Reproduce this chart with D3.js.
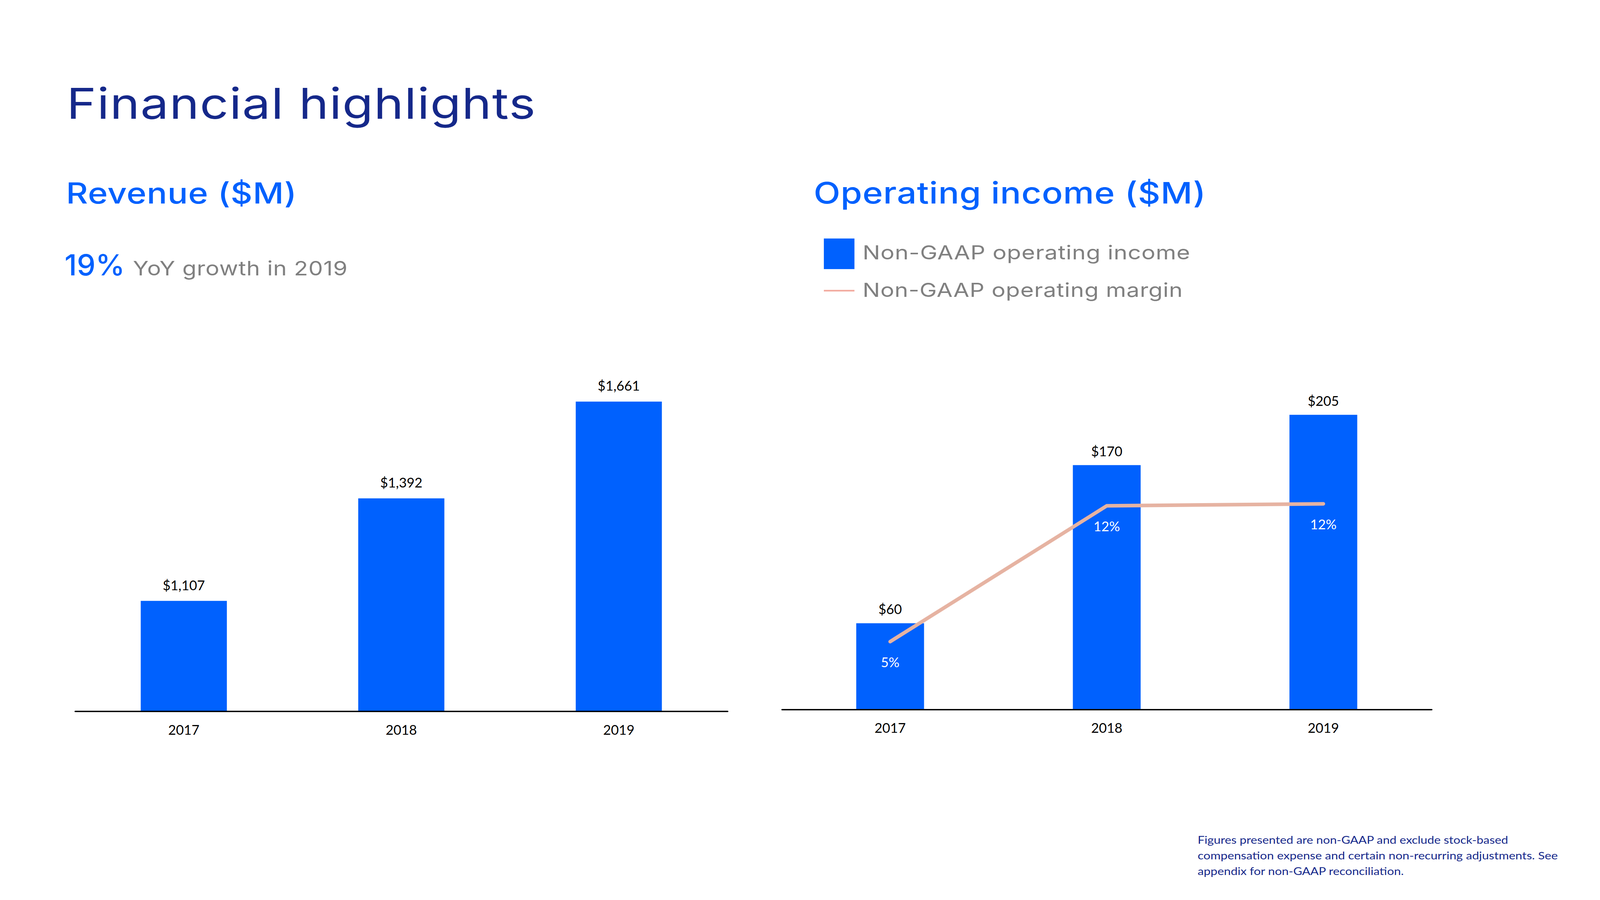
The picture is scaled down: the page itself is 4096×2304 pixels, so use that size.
<!DOCTYPE html>
<html>
<head>
<meta charset="utf-8">
<script src="https://cdn.jsdelivr.net/npm/d3@7"></script>
<style>
  html, body { margin: 0; padding: 0; background: #ffffff; }
  svg { display: block; }
</style>
</head>
<body>
<script>
// ---------------- data ----------------
const years = ["2017", "2018", "2019"];
const revenue = [1107, 1392, 1661];          // $M
const opIncome = [60, 170, 205];             // $M, Non-GAAP operating income
const opMargin = [5.4, 12.2, 12.3];          // %, Non-GAAP operating margin
const revenueDomain = [800, 1800];
const opIncomeDomain = [0, 250];
const opMarginDomain = [2, 20];

const titleText = "Financial highlights";
const revenueTitle = "Revenue ($M)";
const growthValue = "19%";
const growthText = "YoY growth in 2019";
const opTitle = "Operating income ($M)";
const legendLabels = ["Non-GAAP operating income", "Non-GAAP operating margin"];
const footnoteLines = [
  "Figures presented are non-GAAP and exclude stock-based",
  "compensation expense and certain non-recurring adjustments. See",
  "appendix for non-GAAP reconciliation."
];

// ---------------- style ----------------
const NAVY = "#15288a";
const BLUE = "#0061fe";
const GREY = "#808080";
const LINE = "#e6b3a2";
const LEGEND_LINE = "#f2aca1";
const HEAD_FONT = "Inter, 'Noto Sans', sans-serif";
const BODY_FONT = "Lato, 'Open Sans', sans-serif";

const svg = d3.select("body").append("svg")
  .attr("width", 4096).attr("height", 2304)
  .attr("viewBox", "0 0 5333 3000");

svg.append("rect").attr("width", 5333).attr("height", 3000).attr("fill", "#fff");

// text placed at (x, baseline y), stretched horizontally to span the target width
function addText(x, y, txt, size, color, font, weight, target, spacing) {
  const t = svg.append("text")
    .attr("font-family", font).attr("font-size", size)
    .attr("font-weight", weight).attr("fill", color)
    .attr("letter-spacing", spacing || 0)
    .text(txt);
  const w = t.node().getComputedTextLength();
  const k = target ? target / w : 1;
  t.attr("transform", `translate(${x},${y}) scale(${k},1)`);
  return t;
}

// ---------------- headings ----------------
addText(222, 396, titleText, 142, NAVY, HEAD_FONT, 400, 1565, 2);
addText(220, 678, revenueTitle, 96, BLUE, HEAD_FONT, 500, 770, 1);
addText(215, 918, growthValue, 96, BLUE, HEAD_FONT, 500, 201, 0);
addText(443, 918, growthText, 66, GREY, HEAD_FONT, 400, 716, 1);
addText(2712, 679, opTitle, 99, BLUE, HEAD_FONT, 500, 1308, 1);

// legend
svg.append("rect").attr("x", 2746).attr("y", 795).attr("width", 102).attr("height", 102).attr("fill", BLUE);
svg.append("line").attr("x1", 2746).attr("x2", 2848).attr("y1", 969).attr("y2", 969)
  .attr("stroke", LEGEND_LINE).attr("stroke-width", 5.5);
addText(2875, 865, legendLabels[0], 65, GREY, HEAD_FONT, 400, 1093, 1);
addText(2875, 989, legendLabels[1], 65, GREY, HEAD_FONT, 400, 1068, 1);

// footnote
const fnWidths = [1035, 1201, 687];
footnoteLines.forEach((l, i) => addText(3992, 2813 + i * 52, l, 34, NAVY, BODY_FONT, 400, fnWidths[i], 0));

// ---------------- charts ----------------
const LABEL_SIZE = 45;
const money = v => "$" + d3.format(",")(v);

function drawAxis(x, yPos) {
  const g = svg.append("g").attr("transform", `translate(0,${yPos})`)
    .call(d3.axisBottom(x).tickSize(0).tickSizeOuter(0).tickPadding(46));
  g.select(".domain").attr("stroke", "#000").attr("stroke-width", 4.5).attr("stroke-linecap", "round");
  g.selectAll("text").attr("font-family", BODY_FONT).attr("font-size", LABEL_SIZE).attr("fill", "#000");
}

// Revenue chart
const xL = d3.scaleBand().domain(years).range([250, 2425]).paddingInner(0.604).paddingOuter(0.302);
const yL = d3.scaleLinear().domain(revenueDomain).range([2371, 1172]);
const gL = svg.append("g");
gL.selectAll("rect").data(revenue).join("rect")
  .attr("x", (d, i) => xL(years[i])).attr("width", xL.bandwidth())
  .attr("y", d => yL(d)).attr("height", d => yL(revenueDomain[0]) - yL(d))
  .attr("fill", BLUE);
gL.selectAll("text").data(revenue).join("text")
  .attr("x", (d, i) => xL(years[i]) + xL.bandwidth() / 2)
  .attr("y", d => yL(d) - 36)
  .attr("text-anchor", "middle").attr("font-family", BODY_FONT).attr("font-size", LABEL_SIZE)
  .attr("fill", "#000").text(d => money(d));
drawAxis(xL, 2371);

// Operating income chart
const xR = d3.scaleBand().domain(years).range([2606, 4772]).paddingInner(0.687).paddingOuter(0.3435);
const yR = d3.scaleLinear().domain(opIncomeDomain).range([2365, 1167]);
const yM = d3.scaleLinear().domain(opMarginDomain).range([2365, 1167]);
const gR = svg.append("g");
gR.selectAll("rect").data(opIncome).join("rect")
  .attr("x", (d, i) => xR(years[i])).attr("width", xR.bandwidth())
  .attr("y", d => yR(d)).attr("height", d => yR(0) - yR(d))
  .attr("fill", BLUE);
gR.selectAll("text.val").data(opIncome).join("text").attr("class", "val")
  .attr("x", (d, i) => xR(years[i]) + xR.bandwidth() / 2)
  .attr("y", d => yR(d) - 30)
  .attr("text-anchor", "middle").attr("font-family", BODY_FONT).attr("font-size", LABEL_SIZE)
  .attr("fill", "#000").text(d => money(d));

const line = d3.line()
  .x((d, i) => xR(years[i]) + xR.bandwidth() / 2)
  .y(d => yM(d));
gR.append("path").datum(opMargin).attr("d", line)
  .attr("fill", "none").attr("stroke", LINE).attr("stroke-width", 12)
  .attr("stroke-linecap", "round").attr("stroke-linejoin", "round");
gR.selectAll("text.pct").data(opMargin).join("text").attr("class", "pct")
  .attr("x", (d, i) => xR(years[i]) + xR.bandwidth() / 2)
  .attr("y", d => yM(d) + 85)
  .attr("text-anchor", "middle").attr("font-family", BODY_FONT).attr("font-size", LABEL_SIZE)
  .attr("fill", "#fff").text(d => Math.round(d) + "%");
drawAxis(xR, 2365);
</script>
</body>
</html>
